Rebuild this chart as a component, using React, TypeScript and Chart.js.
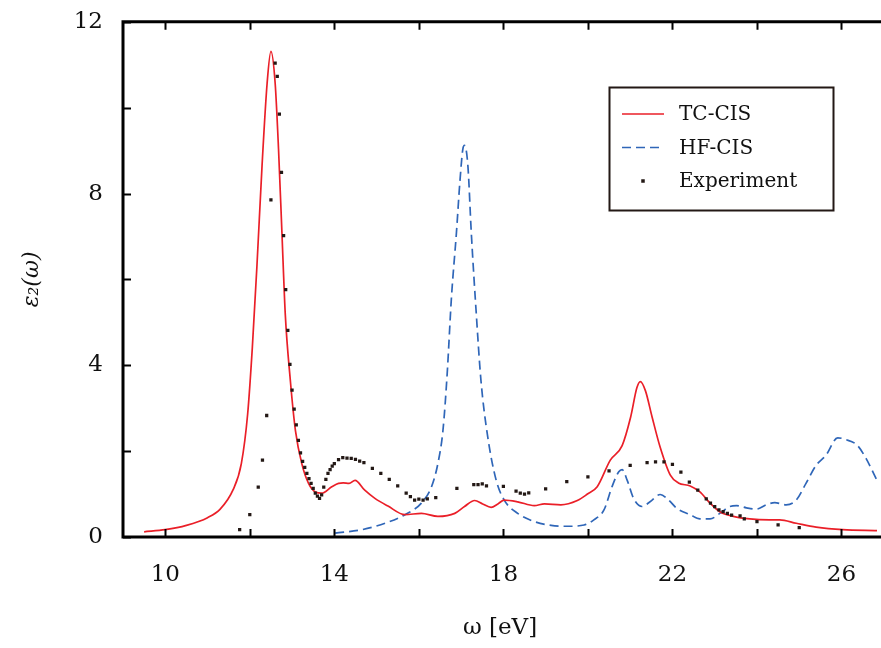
import { useEffect, useRef } from 'react';
import { Chart, registerables } from 'chart.js';

Chart.register(...registerables);

// ---- Data ----
const tcOmega = [9.5, 10.0, 10.5, 11.0, 11.3, 11.6, 11.8, 11.95, 12.06, 12.17, 12.29, 12.41, 12.5, 12.6, 12.68, 12.76, 12.84, 12.96, 13.08, 13.23, 13.39, 13.55, 13.7, 13.94, 14.1, 14.21, 14.35, 14.49, 14.72, 14.96, 15.27, 15.67, 16.06, 16.45, 16.85, 17.08, 17.32, 17.51, 17.71, 17.87, 18.02, 18.34, 18.73, 18.97, 19.36, 19.75, 19.99, 20.22, 20.53, 20.81, 21.01, 21.16, 21.24, 21.36, 21.52, 21.71, 21.95, 22.14, 22.42, 22.65, 22.89, 23.12, 23.44, 23.83, 24.3, 24.54, 24.93, 25.4, 26.03, 26.84];
const tcEps = [0.12, 0.17, 0.27, 0.45, 0.65, 1.09, 1.71, 2.87, 4.41, 6.33, 8.65, 10.57, 11.31, 10.57, 9.03, 7.1, 5.18, 3.64, 2.48, 1.71, 1.25, 1.05, 1.02, 1.17, 1.25, 1.26, 1.25, 1.32, 1.09, 0.9, 0.72, 0.52, 0.55, 0.48, 0.55, 0.71, 0.85, 0.77, 0.69, 0.77, 0.86, 0.82, 0.73, 0.77, 0.75, 0.85, 1.0, 1.17, 1.79, 2.13, 2.79, 3.48, 3.62, 3.41, 2.79, 2.09, 1.44, 1.26, 1.19, 1.05, 0.79, 0.59, 0.48, 0.42, 0.4, 0.4, 0.32, 0.23, 0.17, 0.15];

const hfOmega = [14.02, 14.65, 15.2, 15.67, 16.06, 16.3, 16.45, 16.57, 16.67, 16.77, 16.89, 16.97, 17.04, 17.08, 17.16, 17.24, 17.36, 17.47, 17.63, 17.83, 18.02, 18.34, 18.73, 19.13, 19.52, 19.91, 20.14, 20.38, 20.57, 20.73, 20.81, 20.93, 21.08, 21.28, 21.47, 21.71, 21.91, 22.1, 22.42, 22.65, 22.89, 23.12, 23.36, 23.52, 23.75, 23.99, 24.22, 24.42, 24.69, 24.93, 25.16, 25.4, 25.63, 25.91, 26.1, 26.38, 26.58, 26.84];
const hfEps = [0.09, 0.17, 0.32, 0.52, 0.79, 1.17, 1.71, 2.48, 3.8, 5.56, 7.1, 8.26, 9.03, 9.12, 8.65, 7.1, 5.18, 3.64, 2.33, 1.32, 0.86, 0.55, 0.36, 0.27, 0.25, 0.28, 0.4, 0.63, 1.17, 1.52, 1.57, 1.32, 0.9, 0.71, 0.82, 0.99, 0.86, 0.67, 0.52, 0.42, 0.42, 0.55, 0.71, 0.73, 0.68, 0.65, 0.75, 0.8, 0.75, 0.86, 1.25, 1.67, 1.9, 2.31, 2.27, 2.13, 1.83, 1.32];

const expOmega = [11.76, 12.0, 12.2, 12.3, 12.4, 12.5, 12.6, 12.65, 12.7, 12.75, 12.8, 12.85, 12.9, 12.95, 13.0, 13.05, 13.1, 13.15, 13.2, 13.25, 13.3, 13.35, 13.4, 13.45, 13.5, 13.55, 13.6, 13.65, 13.7, 13.75, 13.8, 13.85, 13.9, 13.95, 14.0, 14.1, 14.2, 14.3, 14.4, 14.5, 14.6, 14.7, 14.9, 15.1, 15.3, 15.5, 15.7, 15.8, 15.9, 16.0, 16.1, 16.2, 16.4, 16.9, 17.3, 17.4, 17.5, 17.6, 18.0, 18.3, 18.4, 18.5, 18.6, 19.0, 19.5, 20.0, 20.5, 21.0, 21.4, 21.6, 21.8, 22.0, 22.2, 22.4, 22.6, 22.8, 22.9, 23.0, 23.1, 23.2, 23.3, 23.4, 23.6, 23.7, 24.0, 24.5, 25.0];
const expEps = [0.17, 0.52, 1.16, 1.79, 2.83, 7.85, 11.04, 10.73, 9.85, 8.49, 7.02, 5.76, 4.81, 4.02, 3.42, 2.98, 2.61, 2.25, 1.96, 1.76, 1.62, 1.48, 1.36, 1.25, 1.13, 1.02, 0.95, 0.9, 0.98, 1.16, 1.34, 1.48, 1.57, 1.65, 1.71, 1.8, 1.85, 1.84, 1.83, 1.81, 1.77, 1.73, 1.6, 1.48, 1.34, 1.19, 1.02, 0.94, 0.86, 0.88, 0.86, 0.89, 0.92, 1.13, 1.22, 1.22, 1.24, 1.19, 1.18, 1.07, 1.02, 1.0, 1.03, 1.12, 1.29, 1.4, 1.54, 1.67, 1.73, 1.75, 1.75, 1.69, 1.51, 1.28, 1.09, 0.89, 0.79, 0.71, 0.63, 0.59, 0.55, 0.51, 0.49, 0.42, 0.36, 0.28, 0.22];

const seriesLabels = ['TC-CIS', 'HF-CIS', 'Experiment'];
const xLabeledTicks = [10, 14, 18, 22, 26];
const yLabeledTicks = [0, 4, 8, 12];

const SERIF = '"DejaVu Serif", serif';
const RED = '#ea1f28';
const BLUE = '#2f66b8';
const DOT = '#231815';

const zip = (xs: number[], ys: number[]) => xs.map((x, i) => ({ x, y: ys[i] }));

const framePlugin = {
  id: 'frame',
  afterDraw(chart: any) {
    const { ctx, chartArea, scales } = chart;
    const { left, top, bottom } = chartArea;
    const W = chart.width;
    ctx.save();
    ctx.strokeStyle = '#000';
    ctx.lineWidth = 2;
    scales.x.ticks.forEach((t: any) => {
      const px = Math.round(scales.x.getPixelForValue(t.value)) + 0.5;
      ctx.beginPath();
      ctx.moveTo(px, bottom);
      ctx.lineTo(px, bottom - 8);
      ctx.moveTo(px, top);
      ctx.lineTo(px, top + 8);
      ctx.stroke();
    });
    scales.y.ticks.forEach((t: any) => {
      const py = Math.round(scales.y.getPixelForValue(t.value)) + 0.5;
      ctx.beginPath();
      ctx.moveTo(left, py);
      ctx.lineTo(left + 8, py);
      ctx.stroke();
    });
    ctx.lineWidth = 3;
    ctx.beginPath();
    ctx.moveTo(W, top);
    ctx.lineTo(left, top);
    ctx.lineTo(left, bottom);
    ctx.lineTo(W, bottom);
    ctx.stroke();
    ctx.restore();
  },
};

const legendPlugin = {
  id: 'boxLegend',
  afterDraw(chart: any) {
    const { ctx } = chart;
    const x0 = 609.5, y0 = 87.5, w = 224, h = 123;
    ctx.save();
    ctx.fillStyle = '#fff';
    ctx.fillRect(x0, y0, w, h);
    ctx.strokeStyle = DOT;
    ctx.lineWidth = 2;
    ctx.strokeRect(x0, y0, w, h);
    const rows = [114, 147.5, 181];
    const ds = chart.data.datasets;
    ds.forEach((d: any, i: number) => {
      const y = rows[i];
      if (i < 2) {
        ctx.beginPath();
        ctx.strokeStyle = d.borderColor;
        ctx.lineWidth = d.borderWidth;
        ctx.setLineDash(d.borderDash || []);
        ctx.moveTo(622, y);
        ctx.lineTo(664, y);
        ctx.stroke();
        ctx.setLineDash([]);
      } else {
        ctx.fillStyle = d.backgroundColor;
        ctx.fillRect(643 - 1.75, y - 1.75, 3.5, 3.5);
      }
      ctx.fillStyle = '#111';
      ctx.font = `20px ${SERIF}`;
      ctx.textBaseline = 'middle';
      ctx.textAlign = 'left';
      ctx.fillText(d.label, 679, y + 1);
    });
    ctx.restore();
  },
};

export default function App() {
  const ref = useRef<HTMLCanvasElement>(null);
  useEffect(() => {
    const chart = new Chart(ref.current!, {
      type: 'scatter',
      data: {
        datasets: [
          {
            label: seriesLabels[0],
            data: zip(tcOmega, tcEps),
            showLine: true,
            borderColor: RED,
            backgroundColor: RED,
            borderWidth: 1.7,
            pointRadius: 0,
            cubicInterpolationMode: 'monotone',
            order: 1,
          } as any,
          {
            label: seriesLabels[1],
            data: zip(hfOmega, hfEps),
            showLine: true,
            borderColor: BLUE,
            backgroundColor: BLUE,
            borderWidth: 1.7,
            borderDash: [9, 5],
            pointRadius: 0,
            cubicInterpolationMode: 'monotone',
            order: 2,
          } as any,
          {
            label: seriesLabels[2],
            data: zip(expOmega, expEps),
            showLine: false,
            pointStyle: 'rect',
            pointRadius: 2.3,
            borderWidth: 0,
            backgroundColor: DOT,
            borderColor: DOT,
            order: 0,
          } as any,
        ],
      },
      options: {
        responsive: false,
        animation: false,
        devicePixelRatio: 1,
        layout: { padding: { top: 18, right: 0, left: 0, bottom: 0 } },
        plugins: { legend: { display: false }, tooltip: { enabled: false } },
        scales: {
          x: {
            type: 'linear',
            min: 9,
            max: 26.84,
            border: { display: false },
            grid: { display: true, drawOnChartArea: false, drawTicks: true, tickLength: 16, color: 'rgba(0,0,0,0)' },
            ticks: {
              stepSize: 2,
              includeBounds: false,
              padding: 8,
              maxRotation: 0,
              autoSkip: false,
              color: '#111',
              font: { family: SERIF, size: 23 },
              callback: (v: any) => (xLabeledTicks.includes(Number(v)) ? String(v) : ''),
            },
            title: {
              display: true,
              text: 'ω [eV]',
              color: '#111',
              font: { family: SERIF, size: 23 },
              padding: { top: 0, bottom: 6 },
            },
            afterFit: (s: any) => { s.height = 111; },
          },
          y: {
            type: 'linear',
            min: 0,
            max: 12,
            border: { display: false },
            grid: { display: true, drawOnChartArea: false, drawTicks: true, tickLength: 12, color: 'rgba(0,0,0,0)' },
            ticks: {
              stepSize: 2,
              padding: 8,
              autoSkip: false,
              color: '#111',
              font: { family: SERIF, size: 23 },
              callback: (v: any) => (yLabeledTicks.includes(Number(v)) ? String(v) : ''),
            },
            title: {
              display: true,
              text: 'ε₂(ω)',
              color: '#111',
              font: { family: SERIF, size: 22, style: 'italic' },
              padding: { top: 19, bottom: 0 },
            },
            afterFit: (s: any) => { s.width = 123; },
          },
        },
      },
      plugins: [framePlugin, legendPlugin],
    });
    return () => chart.destroy();
  }, []);
  return (
    <div style={{ position: 'absolute', left: 0, top: 0, width: 881, height: 648, background: '#fff' }}>
      <canvas ref={ref} width={881} height={648} style={{ display: 'block' }} />
    </div>
  );
}
